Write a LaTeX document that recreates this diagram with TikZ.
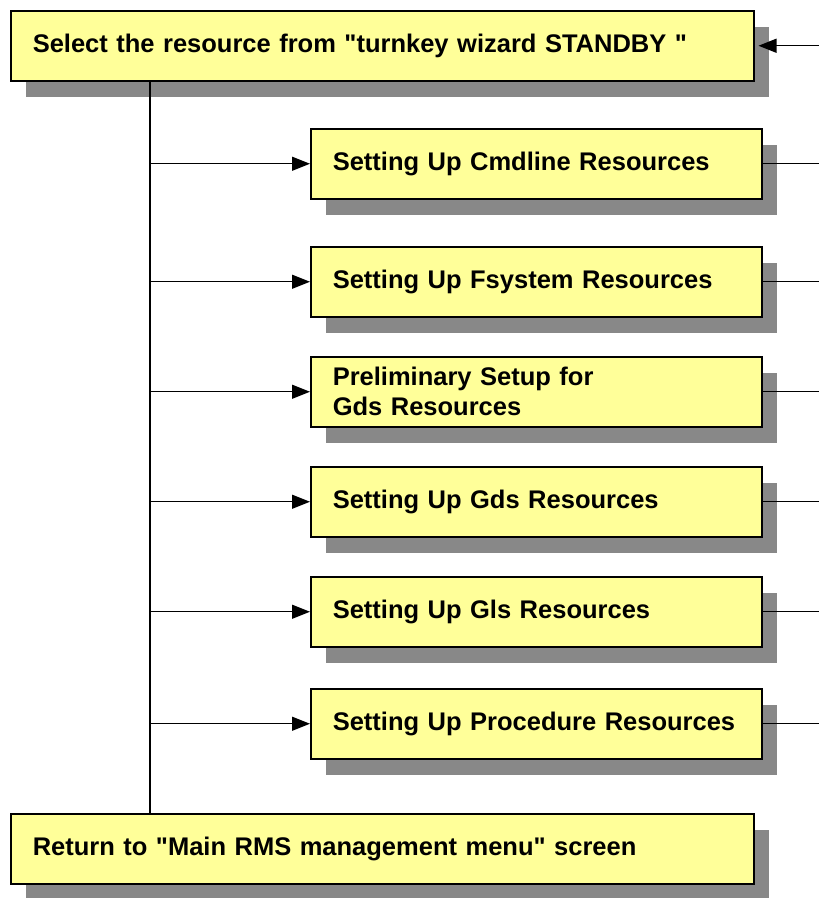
\documentclass[tikz,border=0pt]{standalone}
\usepackage{fontspec}
\setmainfont{Liberation Sans}[Ligatures=TeXOff]
\usepackage{xcolor}
\usetikzlibrary{arrows.meta, positioning, shadows}
\definecolor{boxyellow}{HTML}{FFFF99}
\definecolor{shadowgray}{HTML}{888888}

\begin{document}
\begin{tikzpicture}[
  x=1pt, y=-1pt,
  font=\fontsize{25.5}{30}\selectfont\bfseries,
  >={Triangle[length=18pt,width=14pt]},
  box/.style={draw=black, line width=1.5pt, fill=boxyellow,
              anchor=north west, minimum height=70pt,
              text width=#1, inner xsep=22pt, align=left,
              drop shadow={shadow xshift=15pt, shadow yshift=-16pt,
                           fill=shadowgray, opacity=1}},
  arr/.style={->, line width=1.2pt},
  link/.style={line width=1.2pt},
]
\useasboundingbox (0,0) rectangle (819,898);

%% ---------- Entry / exit boxes ---------------------------------
\node[box=699pt] (select) at (10,10)
      {Select the resource from "turnkey wizard STANDBY "};
\node[box=699pt] (return) at (10,813)
      {Return to "Main RMS management menu" screen};

%% ---------- Resource set-up boxes ------------------------------
\node[box=407pt] (cmd)    at (310,128) {Setting Up Cmdline Resources};
\node[box=407pt] (fsys)   at (310,246) {Setting Up Fsystem Resources};
\node[box=407pt] (prelim) at (310,356) {Preliminary Setup for\\Gds Resources};
\node[box=407pt] (gds)    at (310,466) {Setting Up Gds Resources};
\node[box=407pt] (gls)    at (310,576) {Setting Up Gls Resources};
\node[box=407pt] (proc)   at (310,688) {Setting Up Procedure Resources};

%% ---------- Helper coordinates ---------------------------------
\coordinate (trunk) at (150,0);
\coordinate (edge)  at (819,0);

%% ---- Arrows ---------------------------------------------------
\draw[arr, <-, shorten <=4pt] (select.east) -- (select.east -| edge);
\draw[link] (select.south -| trunk) -- (return.north -| trunk);

\draw[arr] (cmd.west -| trunk)    -- (cmd.west);
\draw[arr] (fsys.west -| trunk)   -- (fsys.west);
\draw[arr] (prelim.west -| trunk) -- (prelim.west);
\draw[arr] (gds.west -| trunk)    -- (gds.west);
\draw[arr] (gls.west -| trunk)    -- (gls.west);
\draw[arr] (proc.west -| trunk)   -- (proc.west);

%% back to the wizard
\draw[link] (cmd.east)    -- (cmd.east -| edge);
\draw[link] (fsys.east)   -- (fsys.east -| edge);
\draw[link] (prelim.east) -- (prelim.east -| edge);
\draw[link] (gds.east)    -- (gds.east -| edge);
\draw[link] (gls.east)    -- (gls.east -| edge);
\draw[link] (proc.east)   -- (proc.east -| edge);
\end{tikzpicture}
\end{document}
